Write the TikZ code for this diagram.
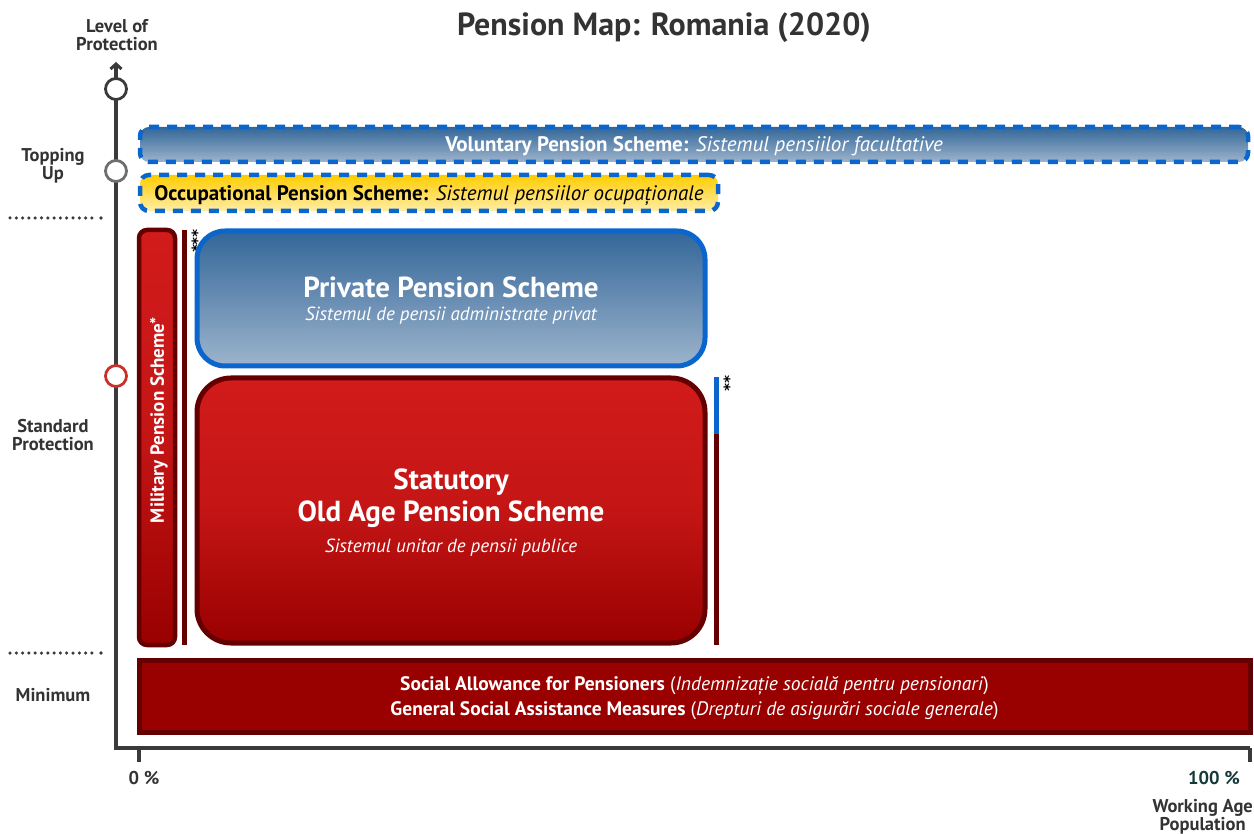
\documentclass[tikz,border=0pt]{standalone}
\usepackage{fontspec}
\setmainfont{PT Sans}
\newfontfamily\astfont{DejaVu Sans}
\usetikzlibrary{arrows.meta}
\definecolor{axisgray}{HTML}{3A3A3A}
\definecolor{txtgray}{HTML}{333333}
\definecolor{schblue}{HTML}{0A66CC}
\definecolor{bluetop}{HTML}{336699}
\definecolor{bluebot}{HTML}{9DB4CC}
\definecolor{goldtop}{HTML}{FFCC00}
\definecolor{goldbot}{HTML}{FFEEA8}
\definecolor{redtop}{HTML}{D21B1B}
\definecolor{redmid}{HTML}{C41515}
\definecolor{redbot}{HTML}{990000}
\definecolor{darkred}{HTML}{650000}
\definecolor{circred}{HTML}{C8302C}
\definecolor{circgray}{HTML}{6E6E6E}
\definecolor{tealtxt}{HTML}{163838}
\newcommand{\bigbf}{\fontsize{29}{32}\selectfont\bfseries}
\newcommand{\subit}{\fontsize{19}{22}\selectfont\mdseries\itshape}
\begin{document}
\begin{tikzpicture}[x=1pt,y=-1pt,
  axisline/.style={draw=axisgray,line width=4pt},
  lvl/.style={circle,draw,fill=white,line width=2.8pt,minimum size=21pt,inner sep=0pt},
  axlabel/.style={font=\fontsize{18.5}{18}\selectfont\bfseries,text=txtgray,align=center,inner sep=0pt},
  dots/.style={draw=axisgray,line width=3.5pt,line cap=round,dash pattern=on 0pt off 6.3pt},
  dashbox/.style={rounded corners=9pt,draw=schblue,line width=4.5pt,dash pattern=on 10pt off 8pt,inner sep=0pt,text depth=0pt},
  bluegrad/.style={top color=bluetop,bottom color=bluebot},
  redgrad/.style={top color=redtop,bottom color=redbot,middle color=redmid},
  boxtxt/.style={text=white,align=center,text depth=0pt},
  thinbar/.style={fill=darkred,draw=none,inner sep=0pt,minimum width=5pt},
  ast/.style={rotate=-90,font=\astfont\bfseries\fontsize{15}{12}\selectfont,inner sep=0pt,anchor=west}
]
\useasboundingbox (0,0) rectangle (1254,834);

% title
\node[font=\fontsize{32}{36}\selectfont\bfseries,text=txtgray] (title) at (664,28) {Pension Map: Romania (2020)};
\node[axlabel] (lop) at (117,35) {Level of\\Protection};

% axes
\coordinate (origin) at (116,748);
\coordinate (ytop) at (116,62);
\coordinate (xend) at (1250,748);
\draw[axisline,-{Straight Barb[length=5pt,width=11pt,line width=3pt]}] (xend) -- (origin) -- (ytop);
\coordinate (t0a) at (139,748); \coordinate (t0b) at (139,762);
\coordinate (t1a) at (1250,748); \coordinate (t1b) at (1250,762);
\draw[axisline] (t0a) -- (t0b);
\draw[axisline] (t1a) -- (t1b);

\node[lvl,draw=axisgray] (c1) at (116,89) {};
\node[lvl,draw=circgray] (c2) at (116,171) {};
\node[lvl,draw=circred] (c3) at (116,376) {};

\node[axlabel] (top) at (53,166) {Topping\\Up};
\node[axlabel] (std) at (53,435) {Standard\\Protection};
\node[axlabel] (min) at (53,695) {Minimum};

\draw[dots] (10,218) -- (93,218);
\fill[axisgray] (101,218) circle (1.8pt);
\draw[dots] (10,653) -- (93,653);
\fill[axisgray] (101,653) circle (1.8pt);

\node[axlabel] (p0) at (144,778) {0 \%};
\node[axlabel,text=tealtxt] (p1) at (1214,778) {100 \%};
\node[axlabel,anchor=north east] (wap) at (1253,799) {Working Age\\Population};

% voluntary
\node[dashbox,bluegrad,minimum width=1108pt,minimum height=35pt,boxtxt,font=\fontsize{21}{24}\selectfont] (vol) at (694,144.5)
  {\textbf{Voluntary Pension Scheme:} \textit{Sistemul pensiilor facultative}};
% occupational
\node[dashbox,top color=goldtop,bottom color=goldbot,minimum width=578pt,minimum height=36pt,font=\fontsize{21}{24}\selectfont] (occ) at (429,193)
  {\textbf{Occupational Pension Scheme:} \textit{Sistemul pensiilor ocupaționale}};

% military
\node[draw=darkred,line width=4.5pt,rounded corners=8pt,redgrad,minimum width=36pt,minimum height=415pt,inner sep=0pt] (mil) at (157,437.5) {};
\node[rotate=90,boxtxt,font=\fontsize{19}{22}\selectfont\bfseries] (miltxt) at (157,420) {Military Pension Scheme*};
\node[thinbar,minimum height=415pt] (bar1) at (184.5,437.5) {};
\node[ast] (ast3) at (193,229) {***};

% private
\node[draw=schblue,line width=5pt,rounded corners=28pt,bluegrad,minimum width=508pt,minimum height=135pt,boxtxt,inner sep=0pt,font=\bigbf] (priv) at (451,298.5)
  {{\bigbf Private Pension Scheme}\\[-9pt]{\subit Sistemul de pensii administrate privat}};

% statutory
\node[draw=darkred,line width=5pt,rounded corners=34pt,redgrad,minimum width=508pt,minimum height=265pt,boxtxt,inner sep=0pt,font=\bigbf] (stat) at (451,510.5)
  {{\bigbf Statutory}\\{\bigbf Old Age Pension Scheme}\\[-1.5pt]{\subit Sistemul unitar de pensii publice}};

% side bar of statutory
\node[fill=schblue,draw=none,inner sep=0pt,minimum width=5pt,minimum height=57pt] (bar2a) at (716.5,405.5) {};
\node[thinbar,minimum height=211pt] (bar2b) at (716.5,539.5) {};
\node[ast] (ast2) at (725,375) {**};

% social
\node[draw=darkred,line width=5pt,fill=redbot,minimum width=1111pt,minimum height=72pt,boxtxt,font=\fontsize{19.5}{25.5}\selectfont,inner sep=0pt] (soc) at (694.5,696)
  {\textbf{Social Allowance for Pensioners} (\textit{Indemnizație socială pentru pensionari})\\
   \textbf{General Social Assistance Measures} (\textit{Drepturi de asigurări sociale generale})};
\end{tikzpicture}
\end{document}
